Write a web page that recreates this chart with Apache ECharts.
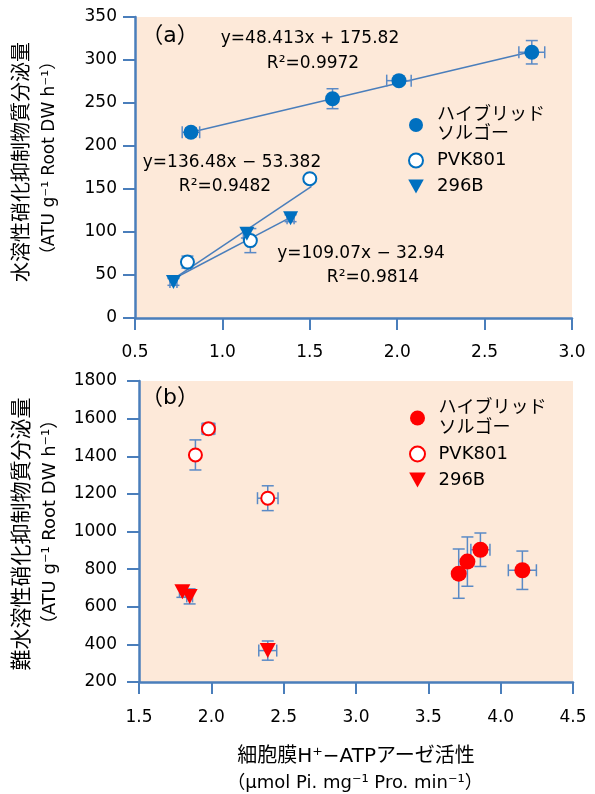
<!DOCTYPE html>
<html>
<head>
<meta charset="utf-8">
<script src="https://cdn.jsdelivr.net/npm/echarts@6/dist/echarts.min.js"></script>
<style>html,body{margin:0;padding:0;background:#fff}#c{width:595px;height:794px}</style>
</head>
<body>
<div id="c"></div>
<script>
// ---------- Panel (a) data ----------
const aHybridX = [0.82, 1.63, 2.01, 2.77];
const aHybridY = [216, 255, 276, 309];
const aHybridXErr = [0.05, 0.02, 0.07, 0.074];
const aHybridYErr = [5, 11.6, 3, 13.6];

const aPvkX = [0.80, 1.16, 1.50];
const aPvkY = [65, 90, 162];
const aPvkXErr = [0.02, 0.02, 0.02];
const aPvkYErr = [7, 14, 4];

const a296X = [0.72, 1.14, 1.39];
const a296Y = [42, 98, 116];
const a296XErr = [0.02, 0.02, 0.02];
const a296YErr = [4, 5, 4];

// trend line end points
const aHybridTrend = [[0.82, 216], [2.77, 310]];
const aPvkTrend = [[0.71, 44], [1.51, 153]];
const a296Trend = [[0.71, 44.5], [1.39, 117]];

const aXTicks = {min: 0.5, max: 3.0, step: 0.5};
const aYTicks = {min: 0, max: 350, step: 50};

// ---------- Panel (b) data ----------
const bHybridX = [3.71, 3.77, 3.86, 4.15];
const bHybridY = [776, 840, 903, 794];
const bHybridXErr = [0.02, 0.02, 0.066, 0.097];
const bHybridYErr = [131, 131, 89, 102];

const bPvkX = [1.89, 1.98, 2.39];
const bPvkY = [1407, 1546, 1177];
const bPvkXErr = [0.02, 0.044, 0.071];
const bPvkYErr = [80, 30, 66];

const b296X = [1.80, 1.85, 2.39];
const b296Y = [680, 655, 367];
const b296XErr = [0.02, 0.02, 0.062];
const b296YErr = [30, 40, 51];

const bXTicks = {min: 1.5, max: 4.5, step: 0.5};
const bYTicks = {min: 200, max: 1800, step: 200};

const legendNames = {
  aH: 'ハイブリッド\nソルゴー', aP: 'PVK801', a2: '296B',
  bH: 'ハイブリッド\nソルゴー', bP: 'PVK801', b2: '296B'
};

// ---------- styling ----------
const FONT = '"DejaVu Sans", "Noto Sans CJK JP", sans-serif';
const AXIS_COLOR = '#4a7ebb';
const ERR_COLOR = '#5a8ac6';
const BLUE = '#0070c0';
const RED = '#ff0000';
const TRI = 'path://M0,0L10,0L5,9Z';

function zip(xs, ys) { return xs.map((x, i) => [x, ys[i]]); }
function zipErr(xs, ys, ex, ey) { return xs.map((x, i) => [x, ys[i], ex[i], ey[i]]); }

function renderErr(params, api) {
  const x = api.value(0), y = api.value(1), ex = api.value(2), ey = api.value(3);
  const cap = 6;
  const style = {stroke: ERR_COLOR, lineWidth: 1.5, fill: null};
  const children = [];
  if (ex > 0) {
    const l = api.coord([x - ex, y]), r = api.coord([x + ex, y]);
    children.push({type: 'line', shape: {x1: l[0], y1: l[1], x2: r[0], y2: r[1]}, style});
    children.push({type: 'line', shape: {x1: l[0], y1: l[1] - cap, x2: l[0], y2: l[1] + cap}, style});
    children.push({type: 'line', shape: {x1: r[0], y1: r[1] - cap, x2: r[0], y2: r[1] + cap}, style});
  }
  if (ey > 0) {
    const t = api.coord([x, y + ey]), b = api.coord([x, y - ey]);
    children.push({type: 'line', shape: {x1: t[0], y1: t[1], x2: b[0], y2: b[1]}, style});
    children.push({type: 'line', shape: {x1: t[0] - cap, y1: t[1], x2: t[0] + cap, y2: t[1]}, style});
    children.push({type: 'line', shape: {x1: b[0] - cap, y1: b[1], x2: b[0] + cap, y2: b[1]}, style});
  }
  return {type: 'group', children};
}

function errSeries(idx, data) {
  return {
    type: 'custom', xAxisIndex: idx, yAxisIndex: idx, data,
    renderItem: renderErr, encode: {x: 0, y: 1}, z: 2, silent: true
  };
}
function trendSeries(idx, data) {
  return {
    type: 'line', xAxisIndex: idx, yAxisIndex: idx, data, showSymbol: false,
    lineStyle: {color: AXIS_COLOR, width: 1.5}, z: 1, silent: true
  };
}

function xAxisCfg(idx, t, margin) {
  return {
    type: 'value', gridIndex: idx, min: t.min, max: t.max, interval: t.step,
    axisLine: {show: true, onZero: false, lineStyle: {color: AXIS_COLOR, width: 2.5}},
    axisTick: {show: true, length: 12, lineStyle: {color: AXIS_COLOR, width: 2}},
    splitLine: {show: false},
    axisLabel: {color: '#000', fontSize: 17, fontFamily: FONT, margin,
      formatter: v => v.toFixed(1)}
  };
}
function yAxisCfg(idx, t, margin) {
  return {
    type: 'value', gridIndex: idx, min: t.min, max: t.max, interval: t.step,
    axisLine: {show: true, onZero: false, lineStyle: {color: AXIS_COLOR, width: 2.5}},
    axisTick: {show: true, length: 12, lineStyle: {color: AXIS_COLOR, width: 2}},
    splitLine: {show: false},
    axisLabel: {color: '#000', fontSize: 17, fontFamily: FONT, margin,
      formatter: v => String(v)}
  };
}

function txt(x, y, text, size, extra) {
  return Object.assign({
    type: 'text', x, y, silent: true,
    style: {text, fontSize: size, fontFamily: FONT, fill: '#000',
      align: 'center', verticalAlign: 'middle'}
  }, extra || {});
}

const chart = echarts.init(document.getElementById('c'), null, {renderer: 'canvas'});

const option = {
  animation: false,
  backgroundColor: '#fff',
  textStyle: {fontFamily: FONT},
  grid: [
    {left: 135, top: 17, width: 437, height: 301, show: true, backgroundColor: '#fde9d9', borderWidth: 0},
    {left: 139, top: 381, width: 434, height: 301, show: true, backgroundColor: '#fde9d9', borderWidth: 0}
  ],
  xAxis: [xAxisCfg(0, aXTicks, 26), xAxisCfg(1, bXTicks, 27)],
  yAxis: [yAxisCfg(0, aYTicks, 18), yAxisCfg(1, bYTicks, 22)],
  legend: [
    {
      left: 408, top: 106, orient: 'vertical', padding: 0, itemGap: 7,
      itemWidth: 32, itemHeight: 14, selectedMode: false,
      data: ['aH', 'aP', 'a2'], formatter: n => legendNames[n],
      textStyle: {fontSize: 18, lineHeight: 19, color: '#000', fontFamily: FONT}
    },
    {
      left: 409, top: 398, orient: 'vertical', padding: 0, itemGap: 6,
      itemWidth: 32, itemHeight: 15, selectedMode: false,
      data: ['bH', 'bP', 'b2'], formatter: n => legendNames[n],
      textStyle: {fontSize: 18, lineHeight: 20, color: '#000', fontFamily: FONT}
    }
  ],
  series: [
    trendSeries(0, aHybridTrend),
    trendSeries(0, aPvkTrend),
    trendSeries(0, a296Trend),
    errSeries(0, zipErr(aHybridX, aHybridY, aHybridXErr, aHybridYErr)),
    errSeries(0, zipErr(aPvkX, aPvkY, aPvkXErr, aPvkYErr)),
    errSeries(0, zipErr(a296X, a296Y, a296XErr, a296YErr)),
    {name: 'aH', type: 'scatter', xAxisIndex: 0, yAxisIndex: 0, z: 5,
      data: zip(aHybridX, aHybridY), symbol: 'circle', symbolSize: 15,
      itemStyle: {color: BLUE, opacity: 1}},
    {name: 'aP', type: 'scatter', xAxisIndex: 0, yAxisIndex: 0, z: 5,
      data: zip(aPvkX, aPvkY), symbol: 'circle', symbolSize: 13,
      itemStyle: {color: '#fff', borderColor: BLUE, borderWidth: 2, opacity: 1}},
    {name: 'a2', type: 'scatter', xAxisIndex: 0, yAxisIndex: 0, z: 5,
      data: zip(a296X, a296Y), symbol: TRI, symbolSize: [15, 14],
      itemStyle: {color: BLUE, opacity: 1}},

    errSeries(1, zipErr(bHybridX, bHybridY, bHybridXErr, bHybridYErr)),
    errSeries(1, zipErr(bPvkX, bPvkY, bPvkXErr, bPvkYErr)),
    errSeries(1, zipErr(b296X, b296Y, b296XErr, b296YErr)),
    {name: 'bH', type: 'scatter', xAxisIndex: 1, yAxisIndex: 1, z: 5,
      data: zip(bHybridX, bHybridY), symbol: 'circle', symbolSize: 16,
      itemStyle: {color: RED, opacity: 1}},
    {name: 'bP', type: 'scatter', xAxisIndex: 1, yAxisIndex: 1, z: 5,
      data: zip(bPvkX, bPvkY), symbol: 'circle', symbolSize: 13,
      itemStyle: {color: '#fff', borderColor: RED, borderWidth: 2, opacity: 1}},
    {name: 'b2', type: 'scatter', xAxisIndex: 1, yAxisIndex: 1, z: 5,
      data: zip(b296X, b296Y), symbol: TRI, symbolSize: [16, 15],
      itemStyle: {color: RED, opacity: 1}}
  ],
  graphic: [
    txt(170, 36, '（a）', 22),
    txt(170, 398, '（b）', 22),
    txt(310, 39, 'y=48.413x + 175.82', 17),
    txt(313, 64, 'R²=0.9972', 17),
    txt(232, 163, 'y=136.48x − 53.382', 17),
    txt(225, 187, 'R²=0.9482', 17),
    txt(361, 254, 'y=109.07x − 32.94', 17),
    txt(373, 278, 'R²=0.9814', 17),
    txt(23, 162, '水溶性硝化抑制物質分泌量', 20, {rotation: Math.PI / 2}),
    txt(50, 158, '（ATU g⁻¹ Root DW h⁻¹）', 17, {rotation: Math.PI / 2}),
    txt(23, 534, '難水溶性硝化抑制物質分泌量', 21, {rotation: Math.PI / 2}),
    txt(50, 522, '（ATU g⁻¹ Root DW h⁻¹）', 18, {rotation: Math.PI / 2}),
    txt(356, 757, '細胞膜H⁺−ATPアーゼ活性', 20),
    txt(355, 783, '（μmol Pi. mg⁻¹ Pro. min⁻¹）', 18)
  ]
};
chart.setOption(option);
</script>
</body>
</html>
